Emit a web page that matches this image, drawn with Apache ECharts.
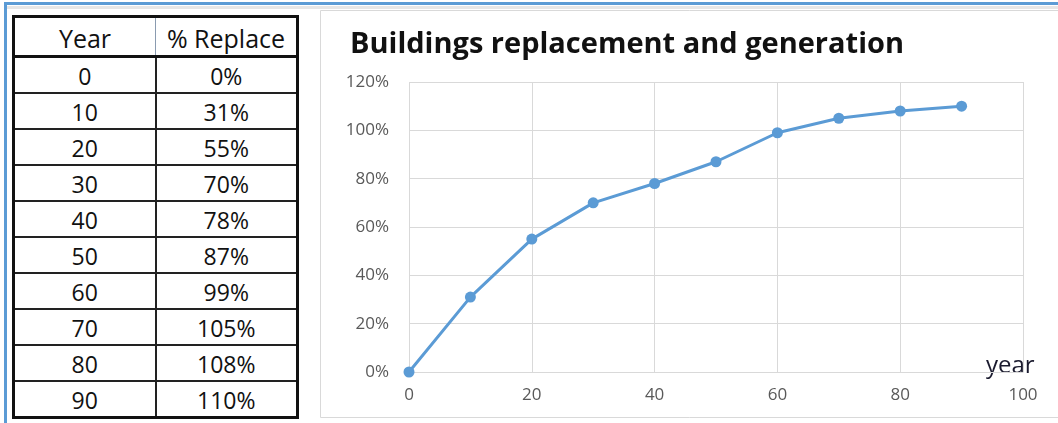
<!DOCTYPE html>
<html>
<head>
<meta charset="utf-8">
<script src="https://cdn.jsdelivr.net/npm/echarts@6/dist/echarts.min.js"></script>
<style>
  html, body { margin: 0; padding: 0; background: #fff; }
  body { width: 1058px; height: 423px; position: relative; overflow: hidden; font-family: "Open Sans", Lato, sans-serif; }
  #topline { position: absolute; left: 4px; top: 2px; width: 1054px; height: 3px; background: #5b9bd5; }
  #topshadow { position: absolute; left: 6px; top: 6px; width: 1052px; height: 3px; background: #e6e6e6; }
  #leftline { position: absolute; left: 4px; top: 2px; width: 3px; height: 421px; background: #5b9bd5; }
  #chart { position: absolute; left: 0; top: 0; width: 1058px; height: 423px; }
  #tbl { position: absolute; left: 12px; top: 15px; border-collapse: collapse; border: 3px solid #111; z-index: 2; background: #fff; }
  #tbl td, #tbl th { color: #111; text-align: center; padding: 0; font-weight: normal; line-height: 1; }
  #tbl th { font-size: 25px; height: 34px; padding-top: 3px; border-bottom: 3px solid #111; }
  #tbl th.c1 { width: 140px; border-right: 1px solid #8a9bb0; }
  #tbl th.c2 { width: 140px; }
  #tbl td { font-size: 23px; height: 31px; padding-top: 3px; border-top: 2px solid #222; }
  #tbl td.c1 { border-right: 2px solid #222; }
</style>
</head>
<body>
<div id="chart"></div>
<div id="topshadow"></div>
<div id="topline"></div>
<div id="leftline"></div>
<table id="tbl"></table>
<script>
// ---- data ----
var headers = ["Year", "% Replace"];
var years = [0, 10, 20, 30, 40, 50, 60, 70, 80, 90];
var replacePct = [0, 31, 55, 70, 78, 87, 99, 105, 108, 110];
var titleText = "Buildings replacement and generation";
var xAxisName = "year";

// ---- table ----
var tbl = document.getElementById('tbl');
var html = '<tr><th class="c1">' + headers[0] + '</th><th class="c2">' + headers[1] + '</th></tr>';
for (var i = 0; i < years.length; i++) {
  html += '<tr><td class="c1">' + years[i] + '</td><td class="c2">' + replacePct[i] + '%</td></tr>';
}
tbl.innerHTML = html;

// ---- chart ----
var FONT = '"Open Sans", Lato, sans-serif';
var chart = echarts.init(document.getElementById('chart'), null, { renderer: 'canvas' });
var pts = years.map(function (y, i) { return [y, replacePct[i]]; });
var lbl = { color: '#595959', fontSize: 17, fontFamily: FONT };
chart.setOption({
  animation: false,
  title: {
    text: titleText,
    left: 345, top: 25,
    textStyle: { fontSize: 29, fontWeight: 'bold', color: '#111', fontFamily: FONT }
  },
  graphic: [
    { type: 'rect', shape: { x: 320.5, y: 10.5, width: 760, height: 407 }, style: { fill: 'none', stroke: '#d9d9d9', lineWidth: 1 }, z: -1 },
    { type: 'text', x: 986, y: 366, style: { text: xAxisName, fontSize: 24, fill: '#1a1a2e', fontFamily: FONT, verticalAlign: 'middle', align: 'left' } }
  ],
  grid: { left: 409, right: 35, top: 82, bottom: 51, containLabel: false },
  xAxis: {
    type: 'value', min: 0, max: 100, interval: 20,
    axisLine: { show: true, lineStyle: { color: '#d9d9d9', width: 1 } },
    axisTick: { show: false },
    splitLine: { show: true, lineStyle: { color: '#d9d9d9', width: 1 } },
    axisLabel: Object.assign({ margin: 15 }, lbl)
  },
  yAxis: {
    type: 'value', min: 0, max: 120, interval: 20,
    axisLine: { show: false },
    axisTick: { show: false },
    splitLine: { show: true, lineStyle: { color: '#d9d9d9', width: 1 } },
    axisLabel: Object.assign({ margin: 20, formatter: '{value}%' }, lbl)
  },
  series: [{
    type: 'line',
    data: pts,
    symbol: 'circle', symbolSize: 11,
    lineStyle: { color: '#5b9bd5', width: 3 },
    itemStyle: { color: '#5b9bd5' }
  }]
});
</script>
</body>
</html>
